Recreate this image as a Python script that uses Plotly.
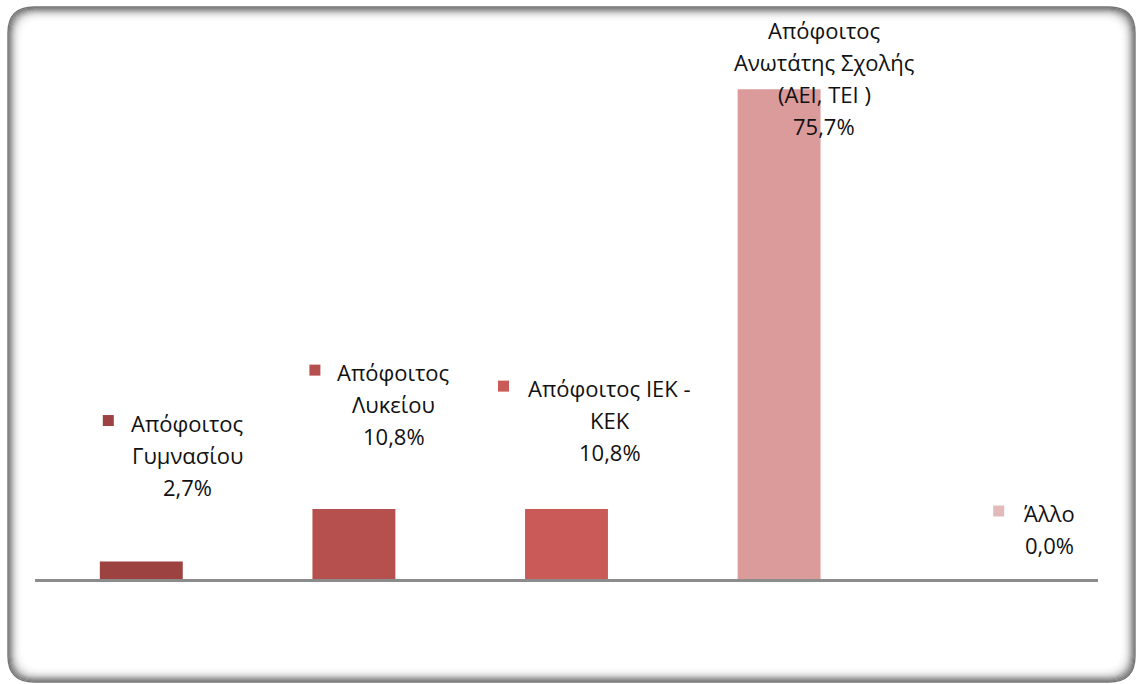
import plotly.graph_objects as go

# Education level of respondents (percent)
categories = [
    "Απόφοιτος Γυμνασίου",
    "Απόφοιτος Λυκείου",
    "Απόφοιτος ΙΕΚ - ΚΕΚ",
    "Απόφοιτος Ανωτάτης Σχολής (ΑΕΙ, ΤΕΙ )",
    "Άλλο",
]
values = [2.7, 10.8, 10.8, 75.7, 0.0]
label_lines = [
    ["Απόφοιτος", "Γυμνασίου"],
    ["Απόφοιτος", "Λυκείου"],
    ["Απόφοιτος ΙΕΚ -", "ΚΕΚ"],
    ["Απόφοιτος", "Ανωτάτης Σχολής", "(ΑΕΙ, ΤΕΙ )"],
    ["Άλλο"],
]
colors = ["#9c4341", "#b5504e", "#c95a57", "#db9b9b", "#e2baba"]

W, H = 1138, 684
# label placement relative to the top-centre of each bar (pixels)
text_dx = [46, 40, 43, 45, 58]
text_dy = [139, 137, 121, 59, 66]      # first line, upward
key_dx = [-33, -39, -63, -68, 7]
line_step = 32

fig = go.Figure()
fig.add_trace(go.Bar(
    x=categories, y=values,
    marker=dict(color=colors, line=dict(width=0)),
    hoverinfo="skip",
))

annotations = []
shapes = []
for i, (cat, v) in enumerate(zip(categories, values)):
    lines = label_lines[i] + [f"{v:.1f}".replace(".", ",") + "%"]
    for k, ln in enumerate(lines):
        annotations.append(dict(
            x=i, y=v, xref="x", yref="y", text=ln, showarrow=False,
            xanchor="center", yanchor="middle",
            xshift=text_dx[i], yshift=text_dy[i] - k * line_step,
            font=dict(family="Open Sans", size=22, color="#111111"),
        ))
    shapes.append(dict(
        type="rect", xref="x", yref="y", xsizemode="pixel", ysizemode="pixel",
        xanchor=i, yanchor=v,
        x0=key_dx[i] - 5.5, x1=key_dx[i] + 5.5,
        y0=text_dy[i] + 2 - 5.5, y1=text_dy[i] + 2 + 5.5,
        fillcolor=colors[i], line=dict(width=0),
    ))

# rounded frame with a soft inner shadow
def rounded_rect(x0, y0, x1, y1, r):
    def P(px, py):
        return f"{px / W:.5f},{1 - py / H:.5f}"
    return (f"M {P(x0 + r, y0)} L {P(x1 - r, y0)} Q {P(x1, y0)} {P(x1, y0 + r)} "
            f"L {P(x1, y1 - r)} Q {P(x1, y1)} {P(x1 - r, y1)} "
            f"L {P(x0 + r, y1)} Q {P(x0, y1)} {P(x0, y1 - r)} "
            f"L {P(x0, y0 + r)} Q {P(x0, y0)} {P(x0 + r, y0)} Z")

shade = [118, 128, 142, 158, 175, 192, 207, 219, 229, 237, 243, 247, 250, 252]
for k, g in reversed(list(enumerate(shade))):
    shapes.append(dict(
        type="path", xref="paper", yref="paper", layer="above",
        path=rounded_rect(8 + k, 7 + k, 1135 - k, 682 - k, 26 - k * 0.5),
        line=dict(color=f"rgb({g},{g},{g})", width=1.4),
    ))

fig.update_layout(
    width=W, height=H,
    margin=dict(l=0, r=0, t=0, b=0),
    paper_bgcolor="white", plot_bgcolor="white",
    showlegend=False, bargap=0.61,
    xaxis=dict(
        domain=[35 / W, 1098 / W], range=[-0.5, 4.5],
        showticklabels=False, showgrid=False, zeroline=False, ticks="",
        showline=True, linecolor="#8c8c8c", linewidth=3,
    ),
    yaxis=dict(
        domain=[(H - 579) / H, (H - 579) / H + 80 * 6.47 / H], range=[0, 80],
        visible=False, showgrid=False, zeroline=False,
    ),
    annotations=annotations,
    shapes=shapes,
)

fig.write_html("out.html")
